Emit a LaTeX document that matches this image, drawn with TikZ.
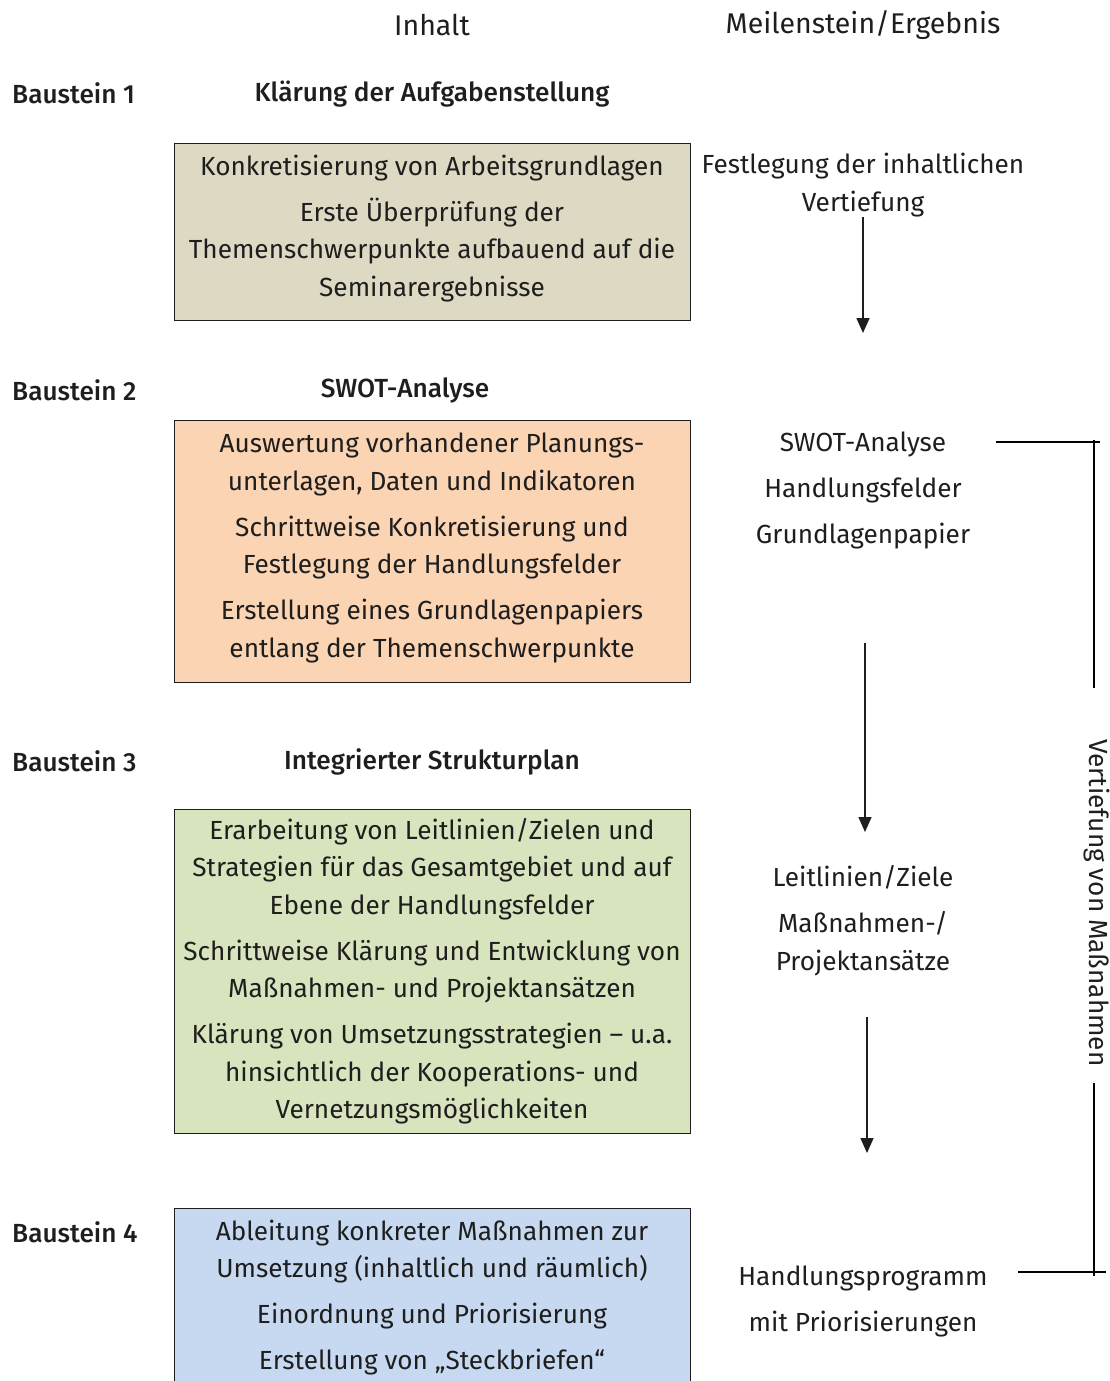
\documentclass[tikz,border=0pt]{standalone}
\usepackage{fontspec}
\setmainfont{Fira Sans}
\IfFontExistsTF{Fira Sans Medium}{\newfontfamily\headfont{Fira Sans Medium}}{\newfontfamily\headfont{Fira Sans}[FakeBold=1.2]}
\usetikzlibrary{arrows.meta}
\definecolor{boxone}{HTML}{DDD9C3}
\definecolor{boxtwo}{HTML}{FBD4B4}
\definecolor{boxthree}{HTML}{D7E4BD}
\definecolor{boxfour}{HTML}{C6D9F1}
\definecolor{inkgray}{HTML}{1E1E1E}

\begin{document}
\begin{tikzpicture}[x=1pt,y=-1pt]
    \pgfmathsetmacro{\boxwidth}{516}
    \pgfmathsetmacro{\midcol}{432}
    \pgfmathsetmacro{\rightcol}{863}
    \pgfmathsetmacro{\bracketx}{1094}
    \providecommand{\bodyfontsize}{\fontsize{26.2}{37.5}\selectfont}
    \providecommand{\titlefontsize}{\fontsize{28.5}{37.5}\selectfont}
    \providecommand{\pargap}{8.5pt}
    \providecommand{\lowstrut}{\rule[-12pt]{0pt}{12pt}}
    \tikzset{
        body/.style={font=\bodyfontsize,align=center,text=inkgray,inner sep=0},
        title/.style={font=\titlefontsize,text=inkgray,inner sep=0},
        head/.style={font=\bodyfontsize\headfont,text=inkgray,inner sep=0},
        stepbox/.style={body,draw=inkgray,line width=0.9pt,minimum width=\boxwidth pt},
        flow/.style={draw=inkgray,line width=1.6pt,-{Triangle[length=15pt,width=13pt]}},
        bracket/.style={draw=black,line width=2.2pt}
    }
    \useasboundingbox (0,0) rectangle (1109,1381);
    \clip (0,0) rectangle (1109,1381);

    % column titles
    \node[title] (inhalt) at (\midcol,25) {Inhalt};
    \node[title] (ergebnis) at (\rightcol,25) {Meilenstein/Ergebnis};

    % Baustein 1
    \node[head,anchor=west] (bs1) at (12,93) {Baustein 1};
    \node[head] (t1) at (\midcol,94) {Klärung der Aufgabenstellung};
    \node[stepbox,fill=boxone,minimum height=177pt] (b1) at (\midcol,231.5)
        {Konkretisierung von Arbeitsgrundlagen\\[\pargap]
         Erste Überprüfung der\\
         Themenschwerpunkte aufbauend auf die\\
         Seminarergebnisse\lowstrut};
    \node[body] (m1) at (\rightcol,185) {Festlegung der inhaltlichen\\Vertiefung};

    % Baustein 2
    \node[head,anchor=west] (bs2) at (12,390) {Baustein 2};
    \node[head] (t2) at (405,390) {SWOT-Analyse};
    \node[stepbox,fill=boxtwo,minimum height=262pt] (b2) at (\midcol,551)
        {Auswertung vorhandener Planungs-\\
         unterlagen, Daten und Indikatoren\\[\pargap]
         Schrittweise Konkretisierung und\\
         Festlegung der Handlungsfelder\\[\pargap]
         Erstellung eines Grundlagenpapiers\\
         entlang der Themenschwerpunkte\lowstrut};
    \node[body] (m2) at (\rightcol,490)
        {SWOT-Analyse\\[\pargap]Handlungsfelder\\[\pargap]Grundlagenpapier};

    % Baustein 3
    \node[head,anchor=west] (bs3) at (12,761) {Baustein 3};
    \node[head] (t3) at (\midcol,762) {Integrierter Strukturplan};
    \node[stepbox,fill=boxthree,minimum height=324pt] (b3) at (\midcol,971)
        {Erarbeitung von Leitlinien/Zielen und\\
         Strategien für das Gesamtgebiet und auf\\
         Ebene der Handlungsfelder\\[\pargap]
         Schrittweise Klärung und Entwicklung von\\
         Maßnahmen- und Projektansätzen\\[\pargap]
         Klärung von Umsetzungsstrategien -- u.a.\\
         hinsichtlich der Kooperations- und\\
         Vernetzungsmöglichkeiten};
    \node[body] (m3) at (\rightcol,920.5)
        {Leitlinien/Ziele\\[\pargap]Maßnahmen-/\\Projektansätze};

    % Baustein 4
    \node[head,anchor=west] (bs4) at (12,1232) {Baustein 4};
    \node[stepbox,fill=boxfour,minimum height=186pt] (b4) at (\midcol,1301)
        {Ableitung konkreter Maßnahmen zur\\
         Umsetzung (inhaltlich und räumlich)\\[\pargap]
         Einordnung und Priorisierung\\[\pargap]
         Erstellung von „Steckbriefen“\lowstrut};
    \node[body] (m4) at (\rightcol,1301) {Handlungsprogramm\\[\pargap]mit Priorisierungen};

    % arrows between milestones
    \coordinate (a1end) at (\rightcol,333);
    \coordinate (a2top) at (865,643);
    \coordinate (a2end) at (865,832);
    \coordinate (a3top) at (867,1017);
    \coordinate (a3end) at (867,1153);
    \draw[flow] (m1.south) -- (a1end);
    \draw[flow] (a2top) -- (a2end);
    \draw[flow] (a3top) -- (a3end);

    % bracket on the right
    \node[body,rotate=-90] (vlabel) at (1097,903) {Vertiefung von Maßnahmen};
    \coordinate (brin) at (996,442);
    \coordinate (brtop) at (\bracketx,440);
    \coordinate (brmid1) at (\bracketx,688);
    \coordinate (brmid2) at (\bracketx,1083);
    \coordinate (brbot) at (\bracketx,1276);
    \coordinate (brout) at (1018,1272);
    \draw[bracket] (brin) -- (1100,442);
    \draw[bracket] (brtop) -- (brmid1);
    \draw[bracket] (brmid2) -- (brbot);
    \draw[bracket] (brout) -- (1106,1272);
\end{tikzpicture}
\end{document}
